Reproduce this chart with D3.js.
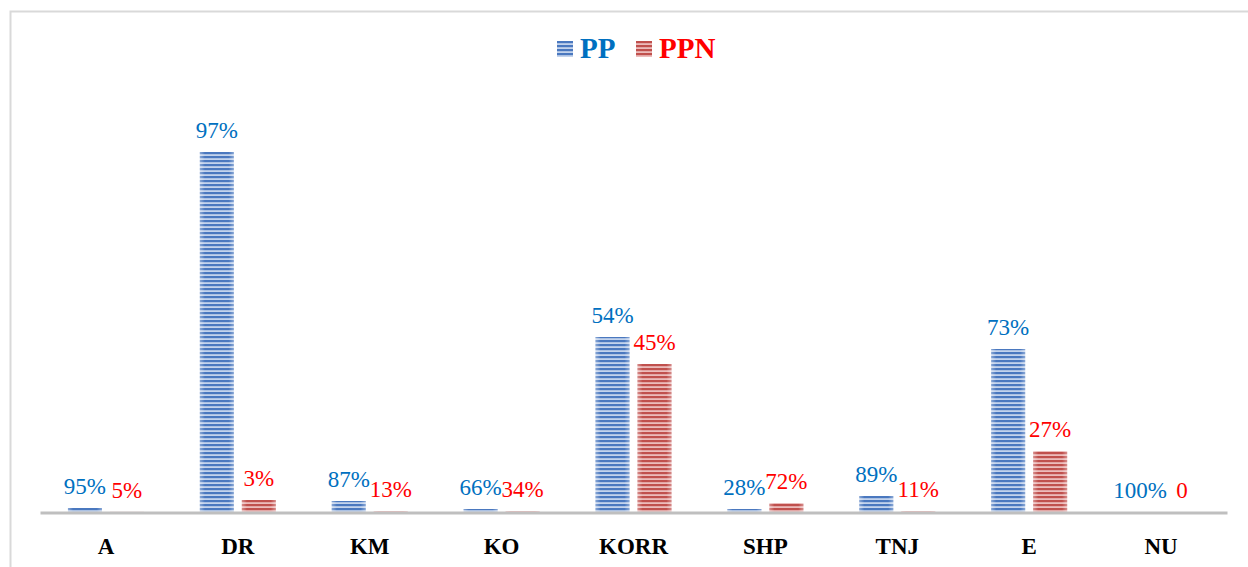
<!DOCTYPE html>
<html>
<head>
<meta charset="utf-8">
<script src="https://cdn.jsdelivr.net/npm/d3@7"></script>
<style>
  html, body { margin: 0; padding: 0; background: #fff; }
  svg { display: block; }
</style>
</head>
<body>
<svg class="chart" width="1248" height="567"></svg>
<script>
// categories and series (bar heights are counts, labels are shares)
const categories = ["A", "DR", "KM", "KO", "KORR", "SHP", "TNJ", "E", "NU"];
const seriesNames = ["PP", "PPN"];
const ppValues = [4, 360, 11, 3, 175, 3, 16, 163, 0];
const ppnValues = [0.2, 12, 1, 1, 148, 9, 1, 61, 0];
const ppLabels = ["95%", "97%", "87%", "66%", "54%", "28%", "89%", "73%", "100%"];
const ppnLabels = ["5%", "3%", "13%", "34%", "45%", "72%", "11%", "27%", "0"];

const barColors = { PP: "#4a78bf", PPN: "#c0504d" };
const lightColors = { PP: "#c3d3ec", PPN: "#ecbcbb" };
const textColors = { PP: "#0070c0", PPN: "#ff0000" };

const left = 40, right = 1227, baseY = 512;

var svg = d3.select(".chart");

// stripe patterns
const defs = svg.append("defs");
seriesNames.forEach(s => {
  const p = defs.append("pattern")
    .attr("id", "stripe-" + s)
    .attr("patternUnits", "userSpaceOnUse")
    .attr("width", 8)
    .attr("height", 4);
  p.append("rect").attr("width", 8).attr("height", 4).attr("fill", lightColors[s]);
  p.append("rect").attr("width", 8).attr("height", 2.2).attr("fill", barColors[s]);

  const g = defs.append("linearGradient")
    .attr("id", "shade-" + s)
    .attr("x1", 0).attr("x2", 1).attr("y1", 0).attr("y2", 0);
  g.append("stop").attr("offset", "0%").attr("stop-color", "#fff").attr("stop-opacity", 0.35);
  g.append("stop").attr("offset", "15%").attr("stop-color", "#fff").attr("stop-opacity", 0);
  g.append("stop").attr("offset", "85%").attr("stop-color", "#fff").attr("stop-opacity", 0);
  g.append("stop").attr("offset", "100%").attr("stop-color", "#fff").attr("stop-opacity", 0.35);
});

// outer frame
svg.append("path")
  .attr("d", "M10.5,567 L10.5,11.5 L1248,11.5")
  .attr("fill", "none")
  .attr("stroke", "#d9d9d9")
  .attr("stroke-width", 2);

const xScale = d3.scaleBand().domain(categories).range([left, right]).padding(0);
const yScale = d3.scaleLinear().domain([0, 400]).range([baseY, baseY - 400]);
const inner = d3.scaleBand().domain(seriesNames).range([-38, 38]).paddingInner(0.19).paddingOuter(0);

const data = [];
categories.forEach((c, i) => {
  data.push({ cat: c, s: "PP", v: ppValues[i], label: ppLabels[i] });
  data.push({ cat: c, s: "PPN", v: ppnValues[i], label: ppnLabels[i] });
});

const cx = d => xScale(d.cat) + xScale.bandwidth() / 2 + inner(d.s);

// bars
const bars = svg.append("g");
bars.selectAll("rect.bar")
  .data(data)
  .enter()
  .append("rect")
  .attr("class", "bar")
  .attr("x", d => cx(d))
  .attr("y", d => yScale(d.v))
  .attr("width", inner.bandwidth())
  .attr("height", d => baseY - yScale(d.v))
  .attr("fill", d => "url(#stripe-" + d.s + ")");
bars.selectAll("rect.shade")
  .data(data)
  .enter()
  .append("rect")
  .attr("class", "shade")
  .attr("x", d => cx(d))
  .attr("y", d => yScale(d.v))
  .attr("width", inner.bandwidth())
  .attr("height", d => baseY - yScale(d.v))
  .attr("fill", d => "url(#shade-" + d.s + ")");

// axis line and category labels
const axis = svg.append("g")
  .attr("transform", `translate(0, ${baseY + 0.5})`)
  .call(d3.axisBottom(xScale).tickSize(0).tickPadding(25));
axis.select(".domain").attr("stroke", "#bfbfbf").attr("stroke-width", 3);
axis.selectAll("text")
  .attr("font-family", "Liberation Serif, serif")
  .attr("font-weight", "bold")
  .attr("font-size", 23)
  .attr("fill", "#000");

// value labels
svg.append("g")
  .selectAll("text")
  .data(data)
  .enter()
  .append("text")
  .attr("x", d => cx(d) + inner.bandwidth() / 2)
  .attr("y", d => yScale(d.v) - 14)
  .attr("text-anchor", "middle")
  .attr("font-family", "Liberation Serif, serif")
  .attr("font-size", 23)
  .attr("fill", d => textColors[d.s])
  .text(d => d.label);

// legend
const legend = svg.append("g").attr("transform", "translate(557, 41)");
const legendX = [0, 79];
seriesNames.forEach((s, i) => {
  const g = legend.append("g").attr("transform", `translate(${legendX[i]}, 0)`);
  g.append("rect").attr("width", 16).attr("height", 16).attr("fill", "url(#stripe-" + s + ")");
  g.append("text")
    .attr("x", 23)
    .attr("y", 17)
    .attr("font-family", "Liberation Serif, serif")
    .attr("font-weight", "bold")
    .attr("font-size", 29)
    .attr("fill", textColors[s])
    .text(s);
});
</script>
</body>
</html>
